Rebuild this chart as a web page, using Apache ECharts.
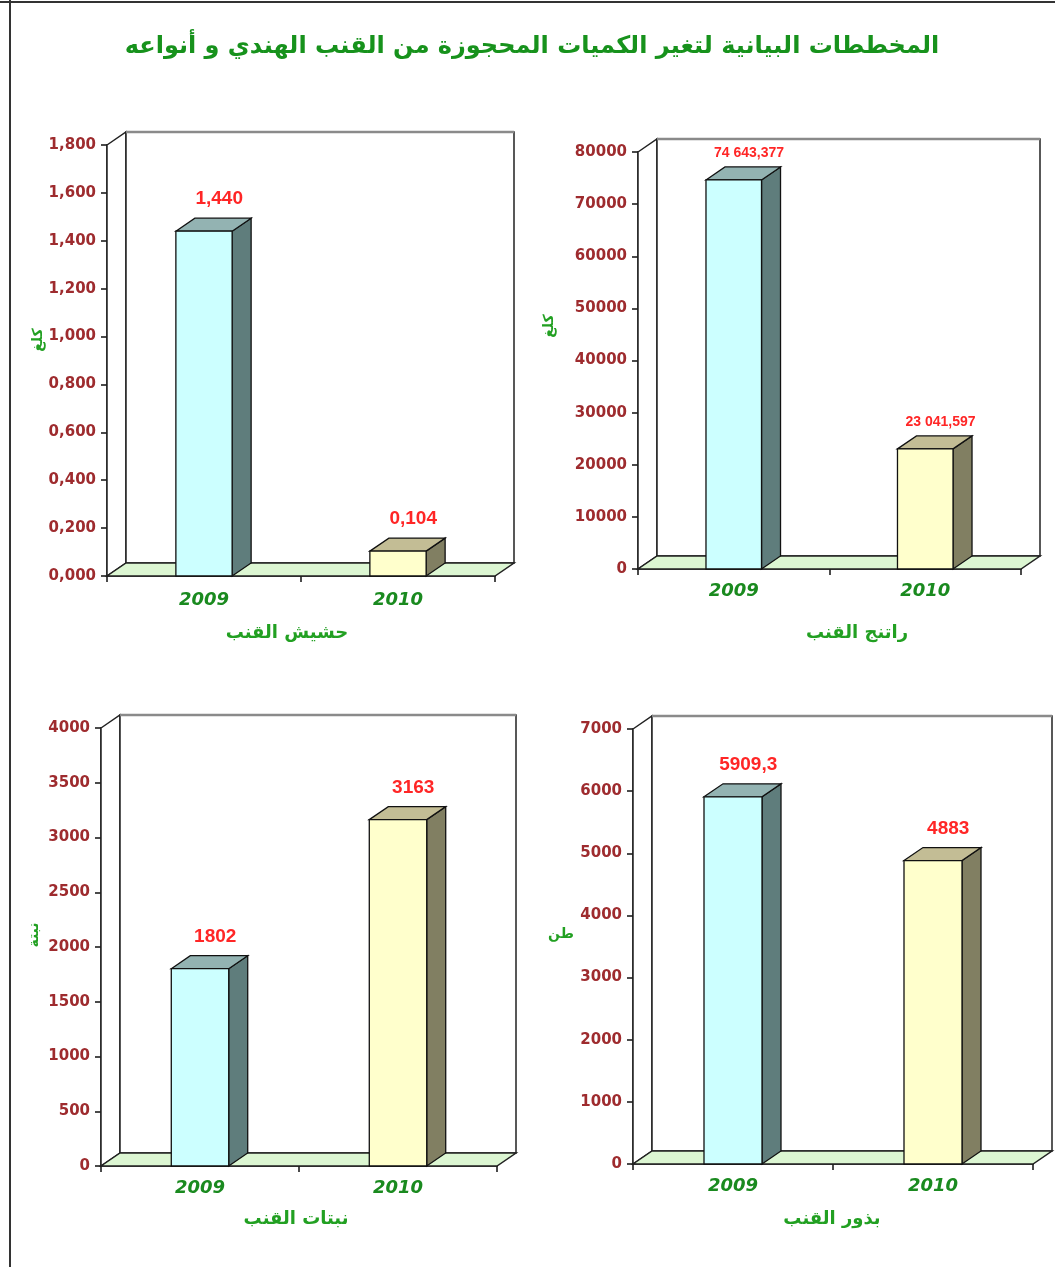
<!DOCTYPE html>
<html><head><meta charset="utf-8">
<script src="https://cdn.jsdelivr.net/npm/echarts@6/dist/echarts.min.js"></script>
<style>html,body{margin:0;padding:0;background:#fff}#c{width:1055px;height:1267px}</style>
</head><body><div id="c"></div>
<script>
// ---------- data ----------
const years = ['2009', '2010'];
const hashishValues = [1.440, 0.104];
const hashishLabels = ['1,440', '0,104'];
const resinValues = [74643.377, 23041.597];
const resinLabels = ['74 643,377', '23 041,597'];
const plantValues = [1802, 3163];
const plantLabels = ['1802', '3163'];
const seedValues = [5909.3, 4883];
const seedLabels = ['5909,3', '4883'];
const titleText = 'المخططات البيانية لتغير الكميات المحجوزة من القنب الهندي و أنواعه';
const chartNames = ['حشيش القنب', 'راتنج القنب', 'نبتات القنب', 'بذور القنب'];
const unitNames = ['كلغ', 'كلغ', 'نبتة', 'طن'];
const yMax = [1.8, 80000, 4000, 7000];
const yStep = [0.2, 10000, 500, 1000];

// ---------- style / layout ----------
const DX = 19, DY = 13;
const GREEN = '#17921c';
const TICK_RED = '#9e2b2e';
const BAR_COLORS = [
  {front: '#ccffff', side: '#5f7d7c', top: '#93b3b2'},
  {front: '#ffffcc', side: '#817f62', top: '#c3bd95'}
];
const panels = [
  {grid: {left: 107, top: 145, width: 388, height: 431}, values: hashishValues, labels: hashishLabels, lblSize: 19, lblGap: 19, fmt: v => v.toFixed(3).replace('.', ','), xMargin: 15,
   name: {x: 287, y: 633}, unit: {x: 38, y: 340, rot: true}},
  {grid: {left: 638, top: 152, width: 383, height: 417}, values: resinValues, labels: resinLabels, lblSize: 14, lblGap: 14, fmt: v => String(v), xMargin: 13,
   name: {x: 857, y: 633}, unit: {x: 549, y: 326, rot: true}},
  {grid: {left: 101, top: 728, width: 396, height: 438}, values: plantValues, labels: plantLabels, lblSize: 19, lblGap: 19, fmt: v => String(v), xMargin: 13,
   name: {x: 296, y: 1219}, unit: {x: 34, y: 935, rot: true}},
  {grid: {left: 633, top: 729, width: 400, height: 435}, values: seedValues, labels: seedLabels, lblSize: 19, lblGap: 19, fmt: v => String(v), xMargin: 13,
   name: {x: 832, y: 1219}, unit: {x: 561, y: 934, rot: false}}
];

function frameRender(params, api) {
  const cs = params.coordSys;
  const x = cs.x, y = cs.y, w = cs.width, h = cs.height;
  return {type: 'group', children: [
    {type: 'polygon', shape: {points: [[x, y], [x + DX, y - DY], [x + DX, y + h - DY], [x, y + h]]},
     style: {fill: '#fff', stroke: '#222', lineWidth: 1.5}},
    {type: 'rect', shape: {x: x + DX, y: y - DY, width: w, height: h},
     style: {fill: '#fff', stroke: '#222', lineWidth: 1.5}},
    {type: 'line', shape: {x1: x + DX, y1: y - DY, x2: x + DX + w, y2: y - DY},
     style: {stroke: '#8a8a8a', lineWidth: 2.5}},
    {type: 'polygon', shape: {points: [[x, y + h], [x + w, y + h], [x + w + DX, y + h - DY], [x + DX, y + h - DY]]},
     style: {fill: '#dcf6d2', stroke: '#222', lineWidth: 1.5}}
  ]};
}

function makeBarRender(p) {
  return function (params, api) {
    const i = api.value(0), v = api.value(1);
    const base = api.coord([i, 0]);
    const top = api.coord([i, v]);
    const bw = api.size([1, 0])[0] * 0.29;
    const x0 = base[0] - bw / 2, x1 = base[0] + bw / 2, yb = base[1], yt = top[1];
    const c = BAR_COLORS[i];
    const st = fill => ({fill: fill, stroke: '#111', lineWidth: 1.3});
    return {type: 'group', children: [
      {type: 'polygon', shape: {points: [[x1, yb], [x1 + DX, yb - DY], [x1 + DX, yt - DY], [x1, yt]]}, style: st(c.side)},
      {type: 'polygon', shape: {points: [[x0, yt], [x0 + DX, yt - DY], [x1 + DX, yt - DY], [x1, yt]]}, style: st(c.top)},
      {type: 'rect', shape: {x: x0, y: yt, width: bw, height: yb - yt}, style: st(c.front)},
      {type: 'text', x: base[0] + DX * 0.8, y: yt - DY - p.lblGap,
       style: {text: p.labels[i], fill: '#ff2626', align: 'center', verticalAlign: 'middle',
               font: 'bold ' + p.lblSize + 'px "Liberation Sans", Arial, sans-serif'}}
    ]};
  };
}

const grid = [], xAxis = [], yAxis = [], series = [];
const graphic = [
  {type: 'line', shape: {x1: 0, y1: 2, x2: 1055, y2: 2}, style: {stroke: '#333', lineWidth: 2}},
  {type: 'line', shape: {x1: 10, y1: 0, x2: 10, y2: 1267}, style: {stroke: '#333', lineWidth: 2}},
  {type: 'text', x: 532, y: 47, style: {text: titleText, fill: GREEN, align: 'center', verticalAlign: 'middle',
    font: 'bold 24px "DejaVu Sans", sans-serif'}}
];

panels.forEach((p, k) => {
  grid.push(Object.assign({containLabel: false}, p.grid));
  xAxis.push({
    type: 'category', gridIndex: k, data: years,
    axisLine: {lineStyle: {color: '#111', width: 1.5}},
    axisTick: {show: true, length: 6, lineStyle: {color: '#111', width: 1.5}},
    axisLabel: {color: '#1a8a1f', fontSize: 18, fontWeight: 'bold', fontStyle: 'italic',
                fontFamily: '"DejaVu Sans", sans-serif', margin: p.xMargin}
  });
  yAxis.push({
    type: 'value', gridIndex: k, min: 0, max: yMax[k], interval: yStep[k],
    axisLine: {show: true, lineStyle: {color: '#111', width: 1.5}},
    axisTick: {show: true, length: 6, lineStyle: {color: '#111', width: 1.5}},
    splitLine: {show: false},
    axisLabel: {color: TICK_RED, fontSize: 15, fontWeight: 'bold', fontFamily: '"DejaVu Sans", sans-serif',
                margin: 11, formatter: p.fmt}
  });
  series.push({
    type: 'custom', xAxisIndex: k, yAxisIndex: k, z: 1, clip: false, silent: true,
    renderItem: frameRender, data: [[0, 0]]
  });
  series.push({
    type: 'custom', xAxisIndex: k, yAxisIndex: k, z: 3, clip: false, silent: true,
    renderItem: makeBarRender(p), data: p.values.map((v, i) => [i, v])
  });
  graphic.push({type: 'text', x: p.name.x, y: p.name.y,
    style: {text: chartNames[k], fill: '#22a022', align: 'center', verticalAlign: 'middle',
            font: 'bold 18px "DejaVu Sans", sans-serif'}});
  graphic.push({type: 'text', x: p.unit.x, y: p.unit.y, rotation: p.unit.rot ? Math.PI / 2 : 0,
    style: {text: unitNames[k], fill: '#22a022', align: 'center', verticalAlign: 'middle',
            font: 'bold 14px "DejaVu Sans", sans-serif'}});
});

const chart = echarts.init(document.getElementById('c'));
chart.setOption({
  animation: false,
  backgroundColor: '#fff',
  grid, xAxis, yAxis, series, graphic
});
</script>
</body></html>
